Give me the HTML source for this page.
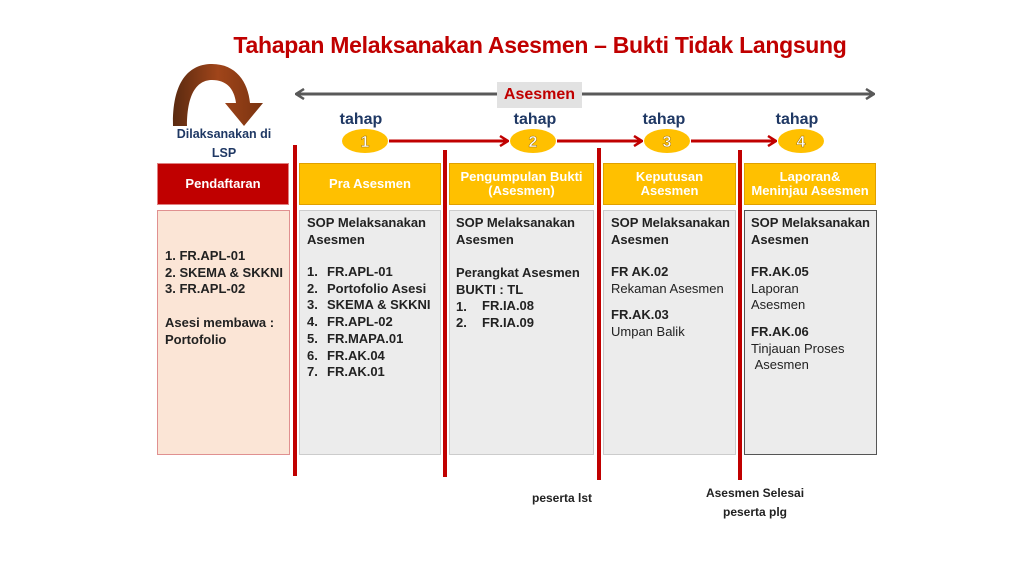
<!DOCTYPE html>
<html><head><meta charset="utf-8"><style>
body{margin:0;width:1024px;height:576px;background:#fff;position:relative;overflow:hidden;font-family:"Liberation Sans",Arial,sans-serif}
.a{position:absolute;white-space:nowrap}
.t{font-size:13px;line-height:16.7px;color:#222}
.b{font-weight:bold}
.hd{position:absolute;top:163px;height:42px;display:flex;align-items:center;justify-content:center;text-align:center;color:#fff;font-weight:bold;font-size:13px;line-height:14px;box-sizing:border-box}
.bx{position:absolute;top:210px;height:245px;box-sizing:border-box}
.vl{position:absolute;width:4px;background:#c00000}
</style></head><body>
<div class="a b" style="left:0;width:1080px;text-align:center;top:32px;font-size:23px;color:#c00000;letter-spacing:-0.3px">Tahapan Melaksanakan Asesmen – Bukti Tidak Langsung</div>

<svg class="a" style="left:0;top:0" width="1024" height="576">
<defs>
<marker id="g" markerWidth="10" markerHeight="12" refX="9" refY="6" orient="auto" markerUnits="userSpaceOnUse"><path d="M1,1 L9,6 L1,11" fill="none" stroke="#595959" stroke-width="2.5"/></marker>
<marker id="r" markerWidth="10" markerHeight="12" refX="9" refY="6" orient="auto" markerUnits="userSpaceOnUse"><path d="M1,1 L9,6 L1,11" fill="none" stroke="#c00000" stroke-width="2.5"/></marker>
<linearGradient id="br" x1="0" x2="1"><stop offset="0" stop-color="#5a2a10"/><stop offset="0.5" stop-color="#a0451a"/><stop offset="1" stop-color="#7a3310"/></linearGradient>
</defs>
<line x1="296" y1="94" x2="874" y2="94" stroke="#595959" stroke-width="3" marker-end="url(#g)"/>
<line x1="874" y1="94" x2="296" y2="94" stroke="#595959" stroke-width="3" marker-end="url(#g)"/>
<path d="M173,126 C172,80 190,64 212,64 C236,64 248,82 250,103 L263,103 L244,126 L225,103 L236,103 C234,88 226,80 212,80 C198,80 187,92 187,126 Z" fill="url(#br)"/>
<line x1="389" y1="141" x2="508" y2="141" stroke="#c00000" stroke-width="3" marker-end="url(#r)"/>
<line x1="557" y1="141" x2="642" y2="141" stroke="#c00000" stroke-width="3" marker-end="url(#r)"/>
<line x1="691" y1="141" x2="776" y2="141" stroke="#c00000" stroke-width="3" marker-end="url(#r)"/>
<g fill="#ffc000"><ellipse cx="365" cy="141" rx="23" ry="12"/><ellipse cx="533" cy="141" rx="23" ry="12"/><ellipse cx="667" cy="141" rx="23" ry="12"/><ellipse cx="801" cy="141" rx="23" ry="12"/></g>
<g font-family="Liberation Sans,sans-serif" font-weight="bold" font-size="16" fill="#fff" stroke="#a07000" stroke-width="0.5" text-anchor="middle"><text x="365" y="147">1</text><text x="533" y="147">2</text><text x="667" y="147">3</text><text x="801" y="147">4</text></g>
<g font-family="Liberation Sans,sans-serif" font-weight="bold" font-size="16" fill="#1f3864" text-anchor="middle"><text x="361" y="124">tahap</text><text x="535" y="124">tahap</text><text x="664" y="124">tahap</text><text x="797" y="124">tahap</text></g>
</svg>
<div class="a b" style="left:497px;top:82px;width:85px;height:26px;background:#e2e2e2;color:#c00000;font-size:16px;line-height:26px;text-align:center">Asesmen</div>
<div class="a b" style="left:165px;top:125px;width:118px;text-align:center;font-size:12.5px;line-height:19px;color:#1f3864">Dilaksanakan di<br>LSP</div>

<div class="hd" style="left:157px;width:132px;background:#c00000;border:1px solid #e08080">Pendaftaran</div>
<div class="hd" style="left:299px;width:142px;background:#ffc000;border:1px solid #e0a000">Pra Asesmen</div>
<div class="hd" style="left:449px;width:145px;background:#ffc000;border:1px solid #e0a000">Pengumpulan Bukti<br>(Asesmen)</div>
<div class="hd" style="left:603px;width:133px;background:#ffc000;border:1px solid #e0a000">Keputusan<br>Asesmen</div>
<div class="hd" style="left:744px;width:132px;background:#ffc000;border:1px solid #e0a000">Laporan&amp;<br>Meninjau Asesmen</div>

<div class="bx" style="left:157px;width:133px;background:#fbe5d6;border:1px solid #e09090"></div>
<div class="bx" style="left:299px;width:142px;background:#ececec;border:1px solid #ccc"></div>
<div class="bx" style="left:449px;width:145px;background:#ececec;border:1px solid #ccc"></div>
<div class="bx" style="left:603px;width:133px;background:#ececec;border:1px solid #ccc"></div>
<div class="bx" style="left:744px;width:133px;background:#ececec;border:1px solid #555"></div>

<div class="vl" style="left:293px;top:145px;height:331px"></div>
<div class="vl" style="left:443px;top:150px;height:327px"></div>
<div class="vl" style="left:597px;top:148px;height:332px"></div>
<div class="vl" style="left:738px;top:150px;height:330px"></div>

<div class="a t b" style="left:165px;top:248px">1. FR.APL-01<br>2. SKEMA &amp; SKKNI<br>3. FR.APL-02<br><br>Asesi membawa :<br>Portofolio</div>

<div class="a t b" style="left:307px;top:215px">SOP Melaksanakan<br>Asesmen</div>
<div class="a t b" style="left:307px;top:264px">1.<br>2.<br>3.<br>4.<br>5.<br>6.<br>7.</div>
<div class="a t b" style="left:327px;top:264px">FR.APL-01<br>Portofolio Asesi<br>SKEMA &amp; SKKNI<br>FR.APL-02<br>FR.MAPA.01<br>FR.AK.04<br>FR.AK.01</div>

<div class="a t b" style="left:456px;top:215px">SOP Melaksanakan<br>Asesmen<br><br>Perangkat Asesmen<br>BUKTI : TL<br>1.<br>2.</div>
<div class="a t b" style="left:482px;top:298px">FR.IA.08<br>FR.IA.09</div>

<div class="a t b" style="left:611px;top:215px">SOP Melaksanakan<br>Asesmen</div>
<div class="a t" style="left:611px;top:264px"><b>FR AK.02</b><br>Rekaman Asesmen</div>
<div class="a t" style="left:611px;top:307px"><b>FR.AK.03</b><br>Umpan Balik</div>

<div class="a t b" style="left:751px;top:215px">SOP Melaksanakan<br>Asesmen</div>
<div class="a t" style="left:751px;top:264px"><b>FR.AK.05</b><br>Laporan<br>Asesmen</div>
<div class="a t" style="left:751px;top:324px"><b>FR.AK.06</b><br>Tinjauan Proses<br>&nbsp;Asesmen</div>

<div class="a t b" style="left:532px;top:490px;font-size:12px">peserta lst</div>
<div class="a t b" style="left:680px;top:484px;width:150px;text-align:center;font-size:12px;line-height:19px">Asesmen Selesai<br>peserta plg</div>
</body></html>
